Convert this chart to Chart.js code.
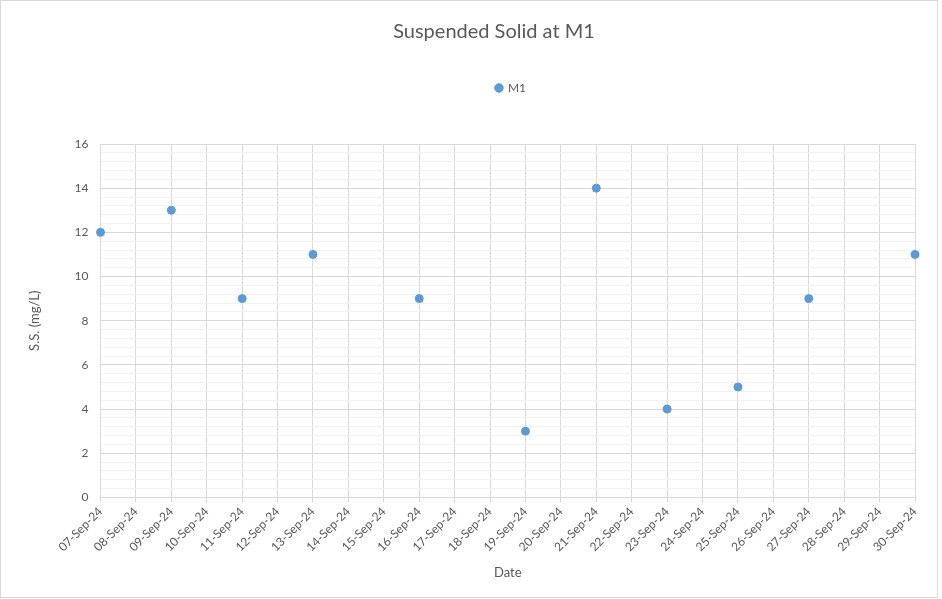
<!DOCTYPE html>
<html>
<head>
<meta charset="utf-8">
<script src="https://cdn.jsdelivr.net/npm/chart.js@4/dist/chart.umd.min.js"></script>
<style>
    html, body { margin: 0; padding: 0; background: #fff; }
    #wrap { width: 942px; height: 599px; }
</style>
</head>
<body>
<div id="wrap"><canvas id="ssChart" width="942" height="599"></canvas></div>
<script>
// Suspended solid readings at M1
const dates = ['07-Sep-24', '08-Sep-24', '09-Sep-24', '10-Sep-24', '11-Sep-24', '12-Sep-24',
    '13-Sep-24', '14-Sep-24', '15-Sep-24', '16-Sep-24', '17-Sep-24', '18-Sep-24',
    '19-Sep-24', '20-Sep-24', '21-Sep-24', '22-Sep-24', '23-Sep-24', '24-Sep-24',
    '25-Sep-24', '26-Sep-24', '27-Sep-24', '28-Sep-24', '29-Sep-24', '30-Sep-24'];
const sampleDates = ['07-Sep-24', '09-Sep-24', '11-Sep-24', '13-Sep-24', '16-Sep-24', '19-Sep-24',
    '21-Sep-24', '23-Sep-24', '25-Sep-24', '27-Sep-24', '30-Sep-24'];
const m1Values = [12, 13, 9, 11, 9, 3, 14, 4, 5, 9, 11];
const yMin = 0;
const yMax = 16;

const textColor = '#595959';
const fontFamily = 'Lato, "Open Sans", sans-serif';

function isMajor(v) {
    return Math.abs(v / 2 - Math.round(v / 2)) < 1e-6;
}

// white background + thin outer border like the Excel chart frame
const frame = {
    id: 'frame',
    beforeDraw(chart) {
        const c = chart.ctx;
        c.save();
        c.fillStyle = '#fff';
        c.fillRect(0, 0, chart.width, chart.height);
        c.strokeStyle = '#D9D9D9';
        c.lineWidth = 1;
        c.strokeRect(0.5, 0.5, 937, 597);
        c.restore();
    }
};

// extra gap below the legend
const legendGap = {
    id: 'legendGap',
    beforeInit(chart) {
        const origFit = chart.legend.fit;
        chart.legend.fit = function() {
            origFit.bind(chart.legend)();
            this.height += 40;
        };
    },
    // Excel centres title and legend a bit right of the canvas middle
    afterLayout(chart) {
        const t = chart.titleBlock;
        if (t) { t.left += 25; t.right += 25; }
        const l = chart.legend;
        if (l) { l.left += 42; l.right += 42; }
    }
};

new Chart(document.getElementById('ssChart'), {
    type: 'line',
    data: {
        labels: dates,
        datasets: [{
            label: 'M1',
            data: sampleDates.map((d, i) => ({ x: d, y: m1Values[i] })),
            showLine: false,
            backgroundColor: '#5B9BD5',
            borderColor: '#5B9BD5',
            pointRadius: 4,
            pointHoverRadius: 4,
            pointStyle: 'circle'
        }]
    },
    options: {
        responsive: false,
        animation: false,
        layout: { padding: { left: 23, right: 27, bottom: 14, top: 0 } },
        plugins: {
            title: {
                display: true,
                text: 'Suspended Solid at M1',
                color: textColor,
                font: { family: fontFamily, size: 20, weight: 'normal' },
                padding: { top: 20, bottom: 28 }
            },
            legend: {
                position: 'top',
                labels: {
                    usePointStyle: true,
                    pointStyle: 'circle',
                    boxWidth: 6,
                    boxHeight: 6,
                    color: textColor,
                    font: { family: fontFamily, size: 12 }
                }
            },
            tooltip: { enabled: false }
        },
        scales: {
            x: {
                type: 'category',
                offset: false,
                title: {
                    display: true,
                    text: 'Date',
                    color: textColor,
                    font: { family: fontFamily, size: 13 },
                    padding: { top: 9 }
                },
                ticks: {
                    autoSkip: false,
                    maxRotation: 45,
                    minRotation: 45,
                    color: textColor,
                    font: { family: fontFamily, size: 12 },
                    padding: 2
                },
                grid: {
                    color: '#D9D9D9',
                    tickLength: 5,
                    drawTicks: true
                },
                border: { color: '#D9D9D9' }
            },
            y: {
                min: yMin,
                max: yMax,
                title: {
                    display: true,
                    text: 'S.S. (mg/L)',
                    color: textColor,
                    font: { family: fontFamily, size: 13 },
                    padding: { bottom: 20 }
                },
                ticks: {
                    stepSize: 0.4,
                    autoSkip: false,
                    color: textColor,
                    font: { family: fontFamily, size: 12 },
                    padding: 12,
                    callback: function(v) {
                        return isMajor(v) ? Math.round(v) : '';
                    }
                },
                grid: {
                    drawTicks: false,
                    color: ctx => isMajor(ctx.tick.value) ? '#D9D9D9' : '#F2F2F2'
                },
                border: { display: false }
            }
        }
    },
    plugins: [frame, legendGap]
});
</script>
</body>
</html>
